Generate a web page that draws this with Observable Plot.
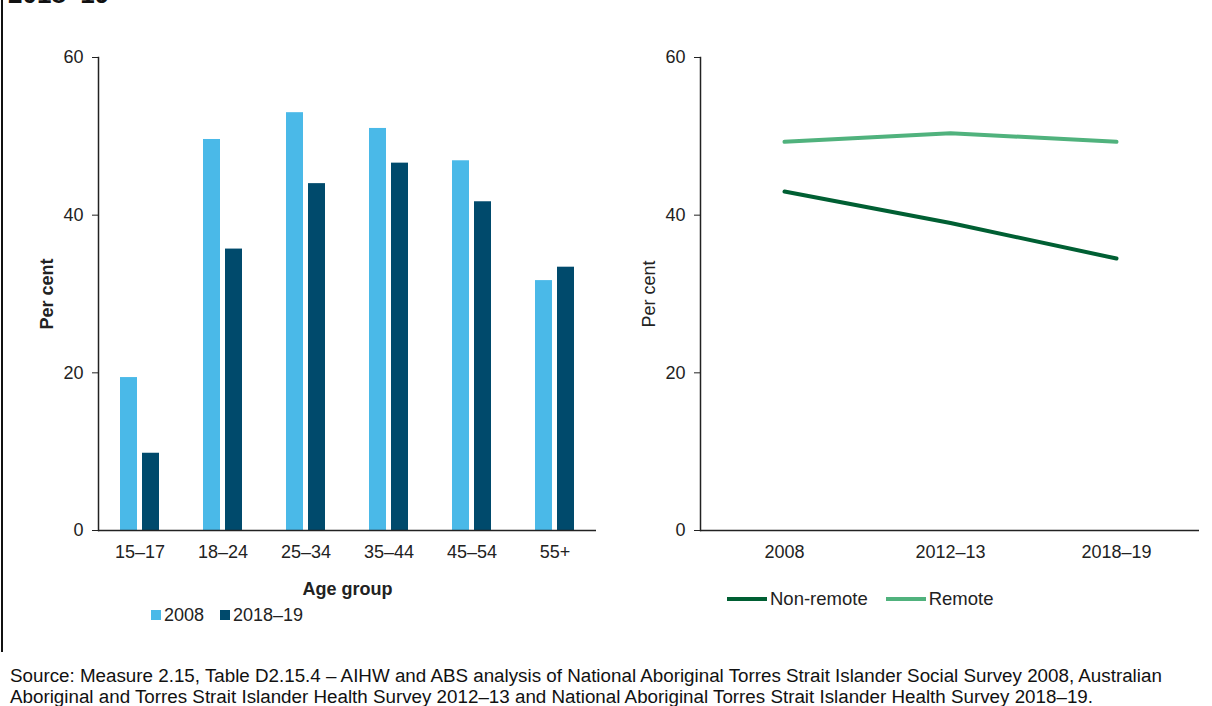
<!DOCTYPE html>
<html><head><meta charset="utf-8">
<script src="https://cdn.jsdelivr.net/npm/d3@7"></script>
<script src="https://cdn.jsdelivr.net/npm/@observablehq/plot@0.6"></script>
<style>
body{margin:0;background:#fff;font-family:Arial,"Liberation Sans",sans-serif;color:#222;}
#wrap{position:relative;width:1212px;height:706px;overflow:hidden;background:#fff;}
#title{position:absolute;left:8px;top:-19px;font-size:26px;line-height:26px;font-weight:bold;color:#111;white-space:nowrap;}
#border{position:absolute;left:1px;top:0;width:2px;height:652px;background:#111;}
#left{position:absolute;left:0;top:0;}
#right{position:absolute;left:610px;top:0;}
.leg{position:absolute;font-size:18px;line-height:20px;white-space:nowrap;display:flex;align-items:center;}
.leg .sq{display:inline-block;width:10px;height:10px;margin-right:3px;}
.leg .ln{display:inline-block;width:40px;height:4px;margin-right:3px;}
.leg .item{display:flex;align-items:center;margin-right:18px;}
#legL{left:151px;top:605px;}
#legR{left:727px;top:589px;font-size:18.5px;}
#source{position:absolute;left:10px;top:665px;font-size:18.8px;line-height:21px;white-space:nowrap;color:#111;}
svg g[aria-label="fx-axis label"] text, #left svg g[aria-label="y-axis label"] text{font-weight:bold;}
</style></head><body>
<div id="wrap">
  <div id="title">2018–19</div>
  <div id="border"></div>
  <div id="left"></div>
  <div id="right"></div>
  <div id="legL" class="leg"></div>
  <div id="legR" class="leg"></div>
  <div id="source">Source: Measure 2.15, Table D2.15.4 – AIHW and ABS analysis of National Aboriginal Torres Strait Islander Social Survey 2008, Australian<br>Aboriginal and Torres Strait Islander Health Survey 2012–13 and National Aboriginal Torres Strait Islander Health Survey 2018–19.</div>
</div>
<script>
// ---- data ----
const ageGroups = ["15–17", "18–24", "25–34", "35–44", "45–54", "55+"];
const barSeries = ["2008", "2018–19"];
const values2008 = [19.4, 49.6, 53.0, 51.0, 46.9, 31.7];
const values201819 = [9.8, 35.7, 44.0, 46.6, 41.7, 33.4];
const surveyYears = ["2008", "2012–13", "2018–19"];
const lineSeries = ["Non-remote", "Remote"];
const nonRemote = [43.0, 39.0, 34.5];
const remote = [49.3, 50.4, 49.3];
const yTicks = [0, 20, 40, 60];
const barColors = ["#4ab9e8", "#004a6c"];
const lineColors = ["#005f33", "#50b27d"];

const font = "Arial, 'Liberation Sans', sans-serif";
const barData = ageGroups.flatMap((g, i) => [
  {age: g, series: barSeries[0], value: values2008[i]},
  {age: g, series: barSeries[1], value: values201819[i]}
]);
const lineData = surveyYears.flatMap((yr, i) => [
  {year: yr, series: lineSeries[0], value: nonRemote[i]},
  {year: yr, series: lineSeries[1], value: remote[i]}
]);

const left = Plot.plot({
  width: 610, height: 600,
  marginTop: 57, marginBottom: 70, marginLeft: 97, marginRight: 14,
  style: {fontFamily: font, fontSize: "18px", color: "#222", background: "transparent", overflow: "visible"},
  fx: {domain: ageGroups, padding: 0, label: null},
  x: {domain: barSeries, paddingInner: 0.217, paddingOuter: 0.917, axis: null},
  y: {domain: [0, 60], ticks: yTicks, label: null},
  color: {domain: barSeries, range: barColors},
  marks: [
    Plot.barY(barData, {fx: "age", x: "series", y: "value", fill: "series"}),
    Plot.ruleY([0], {stroke: "#222", strokeWidth: 1.5}),
    Plot.frame({anchor: "left", facet: "super", stroke: "#222", strokeWidth: 1.5}),
    Plot.axisY({ticks: yTicks, tickSize: 6, tickPadding: 9, label: "Per cent", labelAnchor: "center", labelOffset: 58, labelArrow: "none"}),
    Plot.axisFx({anchor: "bottom", tickSize: 0, tickPadding: 15, label: "Age group", labelAnchor: "center", labelOffset: 64, labelArrow: "none"})
  ]
});
document.getElementById("left").appendChild(left);

const right = Plot.plot({
  width: 602, height: 600,
  marginTop: 57, marginBottom: 70, marginLeft: 90, marginRight: 13,
  style: {fontFamily: font, fontSize: "18px", color: "#222", background: "transparent", overflow: "visible"},
  x: {type: "point", domain: surveyYears, padding: 0.5, label: null},
  y: {domain: [0, 60], ticks: yTicks, label: null},
  color: {domain: lineSeries, range: lineColors},
  marks: [
    Plot.lineY(lineData, {x: "year", y: "value", z: "series", stroke: "series", strokeWidth: 4}),
    Plot.ruleY([0], {stroke: "#222", strokeWidth: 1.5}),
    Plot.frame({anchor: "left", stroke: "#222", strokeWidth: 1.5}),
    Plot.axisY({ticks: yTicks, tickSize: 6, tickPadding: 9, label: "Per cent", labelAnchor: "center", labelOffset: 58, labelArrow: "none"}),
    Plot.axisX({tickSize: 0, tickPadding: 15, label: null})
  ]
});
document.getElementById("right").appendChild(right);

// legends
const legL = document.getElementById("legL");
barSeries.forEach((s, i) => {
  const it = document.createElement("span");
  it.className = "item";
  it.style.marginRight = "16px";
  it.innerHTML = `<span class="sq" style="background:${barColors[i]}"></span>${s}`;
  legL.appendChild(it);
});
const legR = document.getElementById("legR");
lineSeries.forEach((s, i) => {
  const it = document.createElement("span");
  it.className = "item";
  it.innerHTML = `<span class="ln" style="background:${lineColors[i]}"></span>${s}`;
  legR.appendChild(it);
});
</script>
</body></html>
